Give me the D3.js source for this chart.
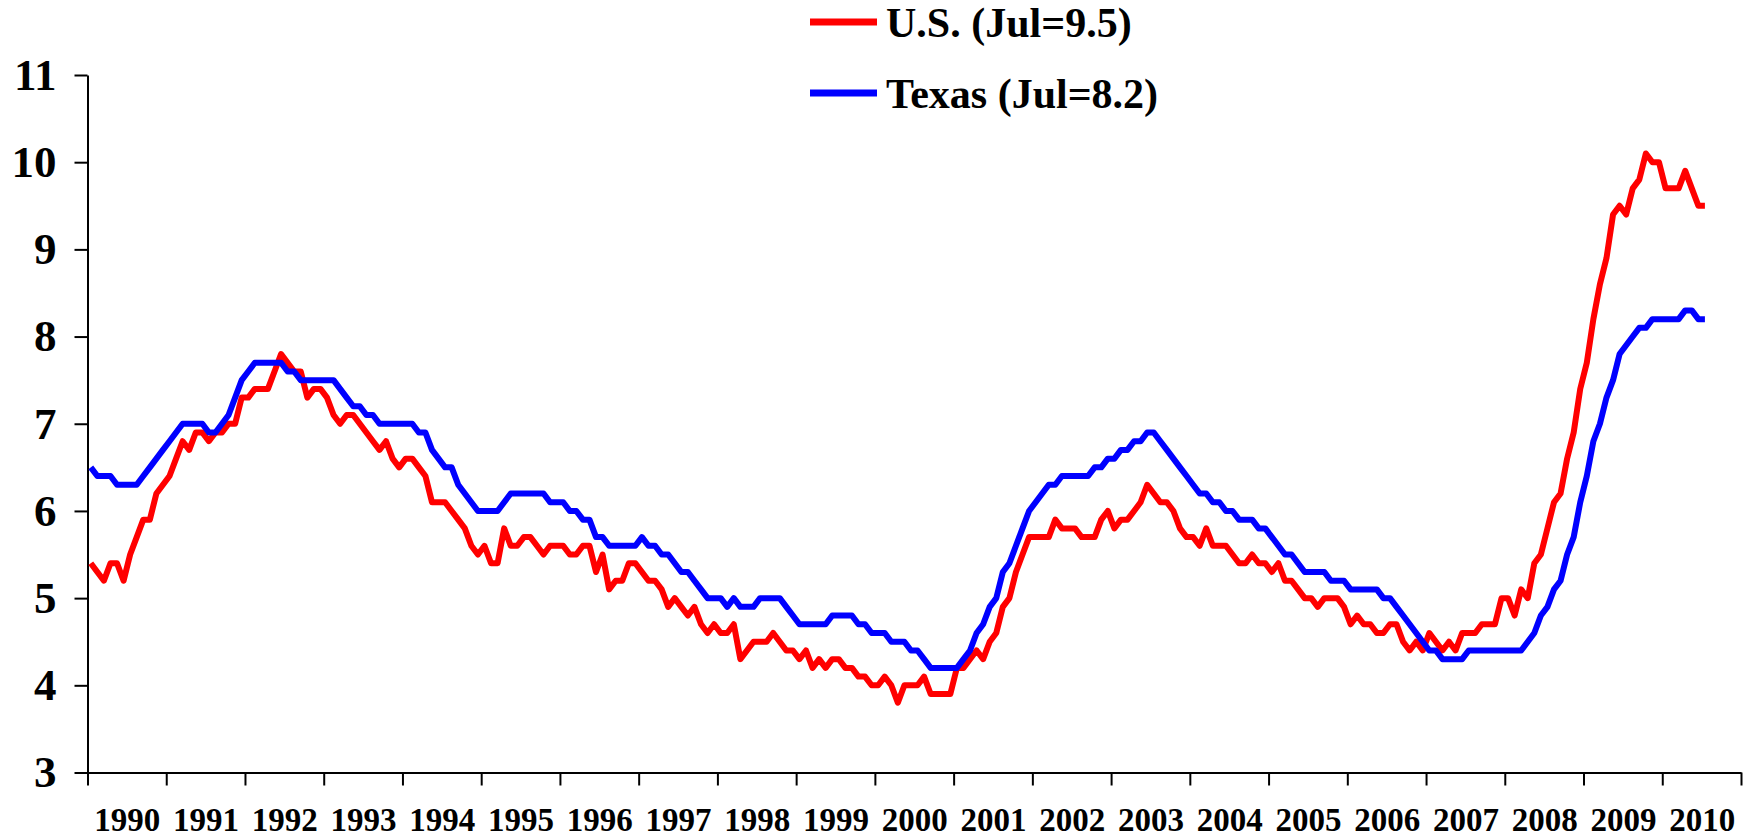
<!DOCTYPE html>
<html>
<head>
<meta charset="utf-8">
<script src="https://cdn.jsdelivr.net/npm/d3@7"></script>
<style>
  html, body { margin: 0; padding: 0; background: #fff; }
  svg { display: block; }
  text { font-family: "Liberation Serif", "Times New Roman", serif; font-weight: bold; fill: #000; }
</style>
</head>
<body>
<svg id="chart" width="1759" height="839"></svg>
<script>
// DATA (monthly unemployment rate, Jan 1990 - Jul 2010)
const years = d3.range(1990, 2011);
const yTicks = [3, 4, 5, 6, 7, 8, 9, 10, 11];
const seriesNames = ["U.S. (Jul=9.5)", "Texas (Jul=8.2)"];
const seriesColors = ["#ff0000", "#0000ff"];

const usRate = [
  5.4, 5.3, 5.2, 5.4, 5.4, 5.2, 5.5, 5.7, 5.9, 5.9, 6.2, 6.3,
  6.4, 6.6, 6.8, 6.7, 6.9, 6.9, 6.8, 6.9, 6.9, 7.0, 7.0, 7.3,
  7.3, 7.4, 7.4, 7.4, 7.6, 7.8, 7.7, 7.6, 7.6, 7.3, 7.4, 7.4,
  7.3, 7.1, 7.0, 7.1, 7.1, 7.0, 6.9, 6.8, 6.7, 6.8, 6.6, 6.5,
  6.6, 6.6, 6.5, 6.4, 6.1, 6.1, 6.1, 6.0, 5.9, 5.8, 5.6, 5.5,
  5.6, 5.4, 5.4, 5.8, 5.6, 5.6, 5.7, 5.7, 5.6, 5.5, 5.6, 5.6,
  5.6, 5.5, 5.5, 5.6, 5.6, 5.3, 5.5, 5.1, 5.2, 5.2, 5.4, 5.4,
  5.3, 5.2, 5.2, 5.1, 4.9, 5.0, 4.9, 4.8, 4.9, 4.7, 4.6, 4.7,
  4.6, 4.6, 4.7, 4.3, 4.4, 4.5, 4.5, 4.5, 4.6, 4.5, 4.4, 4.4,
  4.3, 4.4, 4.2, 4.3, 4.2, 4.3, 4.3, 4.2, 4.2, 4.1, 4.1, 4.0,
  4.0, 4.1, 4.0, 3.8, 4.0, 4.0, 4.0, 4.1, 3.9, 3.9, 3.9, 3.9,
  4.2, 4.2, 4.3, 4.4, 4.3, 4.5, 4.6, 4.9, 5.0, 5.3, 5.5, 5.7,
  5.7, 5.7, 5.7, 5.9, 5.8, 5.8, 5.8, 5.7, 5.7, 5.7, 5.9, 6.0,
  5.8, 5.9, 5.9, 6.0, 6.1, 6.3, 6.2, 6.1, 6.1, 6.0, 5.8, 5.7,
  5.7, 5.6, 5.8, 5.6, 5.6, 5.6, 5.5, 5.4, 5.4, 5.5, 5.4, 5.4,
  5.3, 5.4, 5.2, 5.2, 5.1, 5.0, 5.0, 4.9, 5.0, 5.0, 5.0, 4.9,
  4.7, 4.8, 4.7, 4.7, 4.6, 4.6, 4.7, 4.7, 4.5, 4.4, 4.5, 4.4,
  4.6, 4.5, 4.4, 4.5, 4.4, 4.6, 4.6, 4.6, 4.7, 4.7, 4.7, 5.0,
  5.0, 4.8, 5.1, 5.0, 5.4, 5.5, 5.8, 6.1, 6.2, 6.6, 6.9, 7.4,
  7.7, 8.2, 8.6, 8.9, 9.4, 9.5, 9.4, 9.7, 9.8, 10.1, 10.0, 10.0,
  9.7, 9.7, 9.7, 9.9, 9.7, 9.5, 9.5
];

const texasRate = [
  6.5, 6.4, 6.4, 6.4, 6.3, 6.3, 6.3, 6.3, 6.4, 6.5, 6.6, 6.7,
  6.8, 6.9, 7.0, 7.0, 7.0, 7.0, 6.9, 6.9, 7.0, 7.1, 7.3, 7.5,
  7.6, 7.7, 7.7, 7.7, 7.7, 7.7, 7.6, 7.6, 7.5, 7.5, 7.5, 7.5,
  7.5, 7.5, 7.4, 7.3, 7.2, 7.2, 7.1, 7.1, 7.0, 7.0, 7.0, 7.0,
  7.0, 7.0, 6.9, 6.9, 6.7, 6.6, 6.5, 6.5, 6.3, 6.2, 6.1, 6.0,
  6.0, 6.0, 6.0, 6.1, 6.2, 6.2, 6.2, 6.2, 6.2, 6.2, 6.1, 6.1,
  6.1, 6.0, 6.0, 5.9, 5.9, 5.7, 5.7, 5.6, 5.6, 5.6, 5.6, 5.6,
  5.7, 5.6, 5.6, 5.5, 5.5, 5.4, 5.3, 5.3, 5.2, 5.1, 5.0, 5.0,
  5.0, 4.9, 5.0, 4.9, 4.9, 4.9, 5.0, 5.0, 5.0, 5.0, 4.9, 4.8,
  4.7, 4.7, 4.7, 4.7, 4.7, 4.8, 4.8, 4.8, 4.8, 4.7, 4.7, 4.6,
  4.6, 4.6, 4.5, 4.5, 4.5, 4.4, 4.4, 4.3, 4.2, 4.2, 4.2, 4.2,
  4.2, 4.3, 4.4, 4.6, 4.7, 4.9, 5.0, 5.3, 5.4, 5.6, 5.8, 6.0,
  6.1, 6.2, 6.3, 6.3, 6.4, 6.4, 6.4, 6.4, 6.4, 6.5, 6.5, 6.6,
  6.6, 6.7, 6.7, 6.8, 6.8, 6.9, 6.9, 6.8, 6.7, 6.6, 6.5, 6.4,
  6.3, 6.2, 6.2, 6.1, 6.1, 6.0, 6.0, 5.9, 5.9, 5.9, 5.8, 5.8,
  5.7, 5.6, 5.5, 5.5, 5.4, 5.3, 5.3, 5.3, 5.3, 5.2, 5.2, 5.2,
  5.1, 5.1, 5.1, 5.1, 5.1, 5.0, 5.0, 4.9, 4.8, 4.7, 4.6, 4.5,
  4.4, 4.4, 4.3, 4.3, 4.3, 4.3, 4.4, 4.4, 4.4, 4.4, 4.4, 4.4,
  4.4, 4.4, 4.4, 4.5, 4.6, 4.8, 4.9, 5.1, 5.2, 5.5, 5.7, 6.1,
  6.4, 6.8, 7.0, 7.3, 7.5, 7.8, 7.9, 8.0, 8.1, 8.1, 8.2, 8.2,
  8.2, 8.2, 8.2, 8.3, 8.3, 8.2, 8.2
];

// CANVAS SETUP
const svg = d3.select("#chart");
const margin = { top: 75, right: 18, bottom: 66.5, left: 87.5 };
const width = +svg.attr("width") - margin.left - margin.right,
  height = +svg.attr("height") - margin.top - margin.bottom;

const g = svg.append("g").attr("transform", `translate(${margin.left},${margin.top})`);

// SCALES (x in months since Jan 1990, one band per month)
const nMonths = years.length * 12;
const x = d3.scaleLinear().domain([0, nMonths]).range([0, width]);
const y = d3.scaleLinear().domain([3, 11]).range([height, 0]);

// AXES
const gy = g.append("g")
  .call(d3.axisLeft(y).tickValues(yTicks).tickSize(13).tickSizeOuter(0).tickPadding(18));
gy.selectAll("text").style("font-size", "45px");

const gx = g.append("g")
  .attr("transform", `translate(0,${height})`)
  .call(d3.axisBottom(x).tickValues(d3.range(0, nMonths + 1, 12)).tickSize(13).tickSizeOuter(0).tickFormat(""));

const gxl = g.append("g")
  .attr("transform", `translate(0,${height})`)
  .call(d3.axisBottom(x)
    .tickValues(years.map((yr, i) => i * 12 + 6))
    .tickSize(0)
    .tickFormat((d, i) => years[i]));
gxl.select(".domain").remove();
gxl.selectAll("text").attr("y", 58).attr("dy", null).style("font-size", "33px");

[gx, gy].forEach((a) => {
  a.select(".domain").attr("stroke", "#000").attr("stroke-width", 2);
  a.selectAll(".tick line").attr("stroke", "#000").attr("stroke-width", 2);
});

// LINES
const line = d3.line()
  .x((d, i) => x(i + 0.5))
  .y((d) => y(d));

g.selectAll(".series")
  .data([usRate, texasRate])
  .join("path")
  .attr("class", "series")
  .attr("fill", "none")
  .attr("stroke", (d, i) => seriesColors[i])
  .attr("stroke-width", 6)
  .attr("stroke-linejoin", "round")
  .attr("d", line);

// LEGEND
const legend = svg.append("g").attr("transform", "translate(810,0)");
const legendRows = legend.selectAll("g")
  .data(seriesNames)
  .join("g")
  .attr("transform", (d, i) => `translate(0,${22 + i * 71})`);

legendRows.append("line")
  .attr("x1", 0).attr("x2", 67)
  .attr("stroke", (d, i) => seriesColors[i])
  .attr("stroke-width", 7);

legendRows.append("text")
  .attr("x", 76)
  .attr("y", 14.5)
  .style("font-size", "42px")
  .text((d) => d);
</script>
</body>
</html>
